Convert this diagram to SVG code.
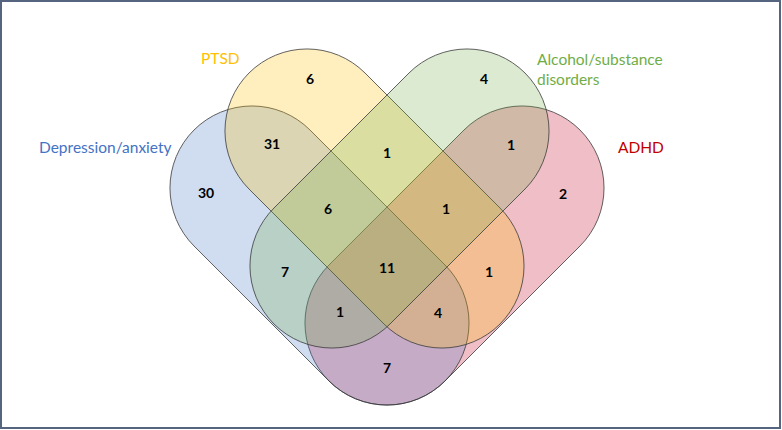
<svg xmlns="http://www.w3.org/2000/svg" width="782" height="430" viewBox="0 0 782 430">
<style>
.set{stroke:#3a3a3a;stroke-width:0.8;stroke-linejoin:round}
.num{font-family:Lato,"Open Sans","Liberation Sans",sans-serif;font-weight:bold;font-size:14px;fill:#000;text-anchor:middle;dominant-baseline:central}
.lbl{font-family:Lato,"Open Sans","Liberation Sans",sans-serif;font-size:15.5px}
</style>
<rect x="1" y="1" width="779" height="427" fill="#ffffff" stroke="#56657f" stroke-width="2"/>
<g id="adhd">
<path class="set" fill="#C8102E" fill-opacity="0.27" d="M464,130 L329,265 A82,82 0 0 0 329,381 A82,82 0 0 0 445,381 L580,246 A82,82 0 0 0 580,130 A82,82 0 0 0 464,130 Z"/>
<text class="lbl" x="618" y="153" fill="#C00000">ADHD</text>
</g>
<g id="depression">
<path class="set" fill="#4472C4" fill-opacity="0.25" d="M310,130 L445,265 A82,82 0 0 1 445,381 A82,82 0 0 1 329,381 L194,246 A82,82 0 0 1 194,130 A82,82 0 0 1 310,130 Z"/>
<text class="lbl" x="39" y="153" fill="#4472C4">Depression/anxiety</text>
</g>
<g id="ptsd">
<path class="set" fill="#FFC000" fill-opacity="0.25" d="M365,73 L500,208 A82,82 0 0 1 500,324 A82,82 0 0 1 384,324 L249,189 A82,82 0 0 1 249,73 A82,82 0 0 1 365,73 Z"/>
<text class="lbl" x="201" y="64" fill="#FFC000">PTSD</text>
</g>
<g id="alcohol">
<path class="set" fill="#70AD47" fill-opacity="0.25" d="M409,73 L274,208 A82,82 0 0 0 274,324 A82,82 0 0 0 390,324 L525,189 A82,82 0 0 0 525,73 A82,82 0 0 0 409,73 Z"/>
<text class="lbl" x="537" y="65" fill="#70AD47">Alcohol/substance</text>
<text class="lbl" x="537" y="85" fill="#70AD47">disorders</text>
</g>
<g id="connectors"></g>
<g id="counts">
<text class="num" x="310" y="78">6</text>
<text class="num" x="484" y="78">4</text>
<text class="num" x="272" y="143">31</text>
<text class="num" x="387" y="152">1</text>
<text class="num" x="511" y="144">1</text>
<text class="num" x="206" y="192">30</text>
<text class="num" x="563" y="193">2</text>
<text class="num" x="328" y="208">6</text>
<text class="num" x="446" y="208">1</text>
<text class="num" x="285" y="271">7</text>
<text class="num" x="387" y="267">11</text>
<text class="num" x="489" y="271">1</text>
<text class="num" x="340" y="311">1</text>
<text class="num" x="438" y="312">4</text>
<text class="num" x="387" y="367">7</text>
</g>
</svg>
